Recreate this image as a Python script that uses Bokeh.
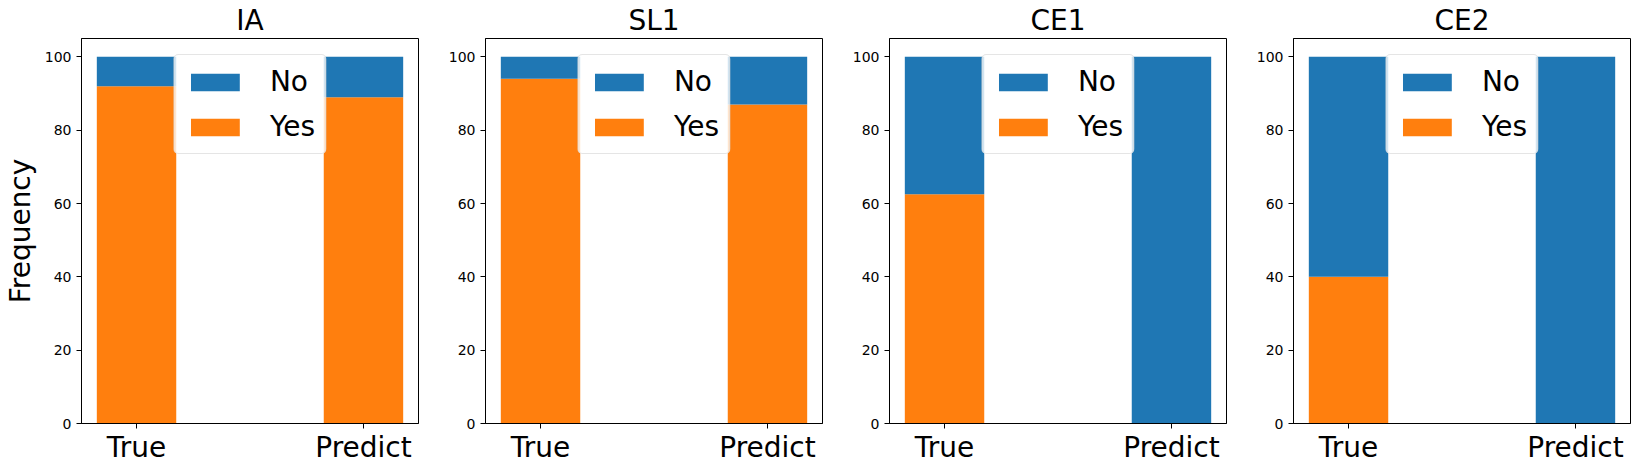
from bokeh.plotting import figure
from bokeh.layouts import row
from bokeh.models import Range1d, FixedTicker, Legend, LegendItem
from bokeh.embed import file_html
from bokeh.resources import INLINE

# ---- data ----
panels = ["IA", "SL1", "CE1", "CE2"]
categories = ["True", "Predict"]
yes_IA = [92, 89]
no_IA = [8, 11]
yes_SL1 = [94, 87]
no_SL1 = [6, 13]
yes_CE1 = [62.5, 0]
no_CE1 = [37.5, 100]
yes_CE2 = [40, 0]
no_CE2 = [60, 100]
y_ticks = [0, 20, 40, 60, 80, 100]
series_labels = ["No", "Yes"]

yes_vals = [yes_IA, yes_SL1, yes_CE1, yes_CE2]
no_vals = [no_IA, no_SL1, no_CE1, no_CE2]

BLUE = "#1f77b4"
ORANGE = "#ff7f0e"
FONT = "DejaVu Sans"
BAR_W = 0.35

xs = list(range(len(categories)))
span = (xs[-1] + BAR_W / 2) - (xs[0] - BAR_W / 2)
x0 = xs[0] - BAR_W / 2 - 0.05 * span
x1 = xs[-1] + BAR_W / 2 + 0.05 * span

figs = []
for i, name in enumerate(panels):
    left = 74 if i == 0 else 57
    right = 1 if i == len(panels) - 1 else 10
    p = figure(frame_width=337, frame_height=385,
               x_range=Range1d(x0, x1), y_range=Range1d(0, 105),
               output_backend="svg", toolbar_location=None,
               min_border_left=left, min_border_right=right,
               min_border_top=33, min_border_bottom=42,
               title=name)
    p.title.text_font = FONT
    p.title.text_font_size = "28px"
    p.title.text_font_style = "normal"
    p.title.align = "center"
    p.title.text_color = "black"
    p.title.standoff = 3

    yes = yes_vals[i]
    no = no_vals[i]
    tops = [a + b for a, b in zip(yes, no)]
    r_yes = p.vbar(x=xs, bottom=0, top=yes, width=BAR_W,
                   fill_color=ORANGE, line_color=None)
    r_no = p.vbar(x=xs, bottom=yes, top=tops, width=BAR_W,
                  fill_color=BLUE, line_color=None)

    p.xgrid.visible = False
    p.ygrid.visible = False
    p.outline_line_color = "black"
    p.outline_line_width = 1
    p.background_fill_color = "white"
    p.border_fill_color = "white"

    xa = p.xaxis[0]
    xa.ticker = FixedTicker(ticks=xs)
    xa.major_label_overrides = {x: c for x, c in zip(xs, categories)}
    xa.major_label_text_font = FONT
    xa.major_label_text_font_size = "28px"
    xa.major_label_text_color = "black"
    xa.major_tick_out = 5
    xa.major_tick_in = 0
    xa.minor_tick_line_color = None
    xa.axis_line_color = "black"
    xa.major_label_standoff = 2

    ya = p.yaxis[0]
    ya.ticker = FixedTicker(ticks=y_ticks)
    ya.major_label_text_font = FONT
    ya.major_label_text_font_size = "14px"
    ya.major_label_text_color = "black"
    ya.major_tick_out = 5
    ya.major_tick_in = 0
    ya.minor_tick_line_color = None
    ya.axis_line_color = "black"
    ya.major_label_standoff = 5
    if i == 0:
        ya.axis_label = "Frequency"
        ya.axis_label_text_font = FONT
        ya.axis_label_text_font_size = "28px"
        ya.axis_label_text_font_style = "normal"
        ya.axis_label_text_color = "black"
        ya.axis_label_standoff = 5

    legend = Legend(items=[LegendItem(label=series_labels[0], renderers=[r_no]),
                           LegendItem(label=series_labels[1], renderers=[r_yes])],
                    location="top_center")
    legend.margin = 16
    legend.padding = 10
    legend.spacing = 12
    legend.glyph_width = 61
    legend.glyph_height = 22
    legend.label_standoff = 25
    legend.label_text_font = FONT
    legend.label_text_font_size = "28px"
    legend.label_text_color = "black"
    legend.border_line_color = "#cccccc"
    legend.border_line_width = 1
    legend.background_fill_color = "white"
    legend.background_fill_alpha = 0.8
    if "border_radius" in Legend.properties():
        legend.border_radius = 5
    p.add_layout(legend)
    figs.append(p)

layout = row(*figs)
open("out.html", "w").write(file_html(layout, INLINE))
